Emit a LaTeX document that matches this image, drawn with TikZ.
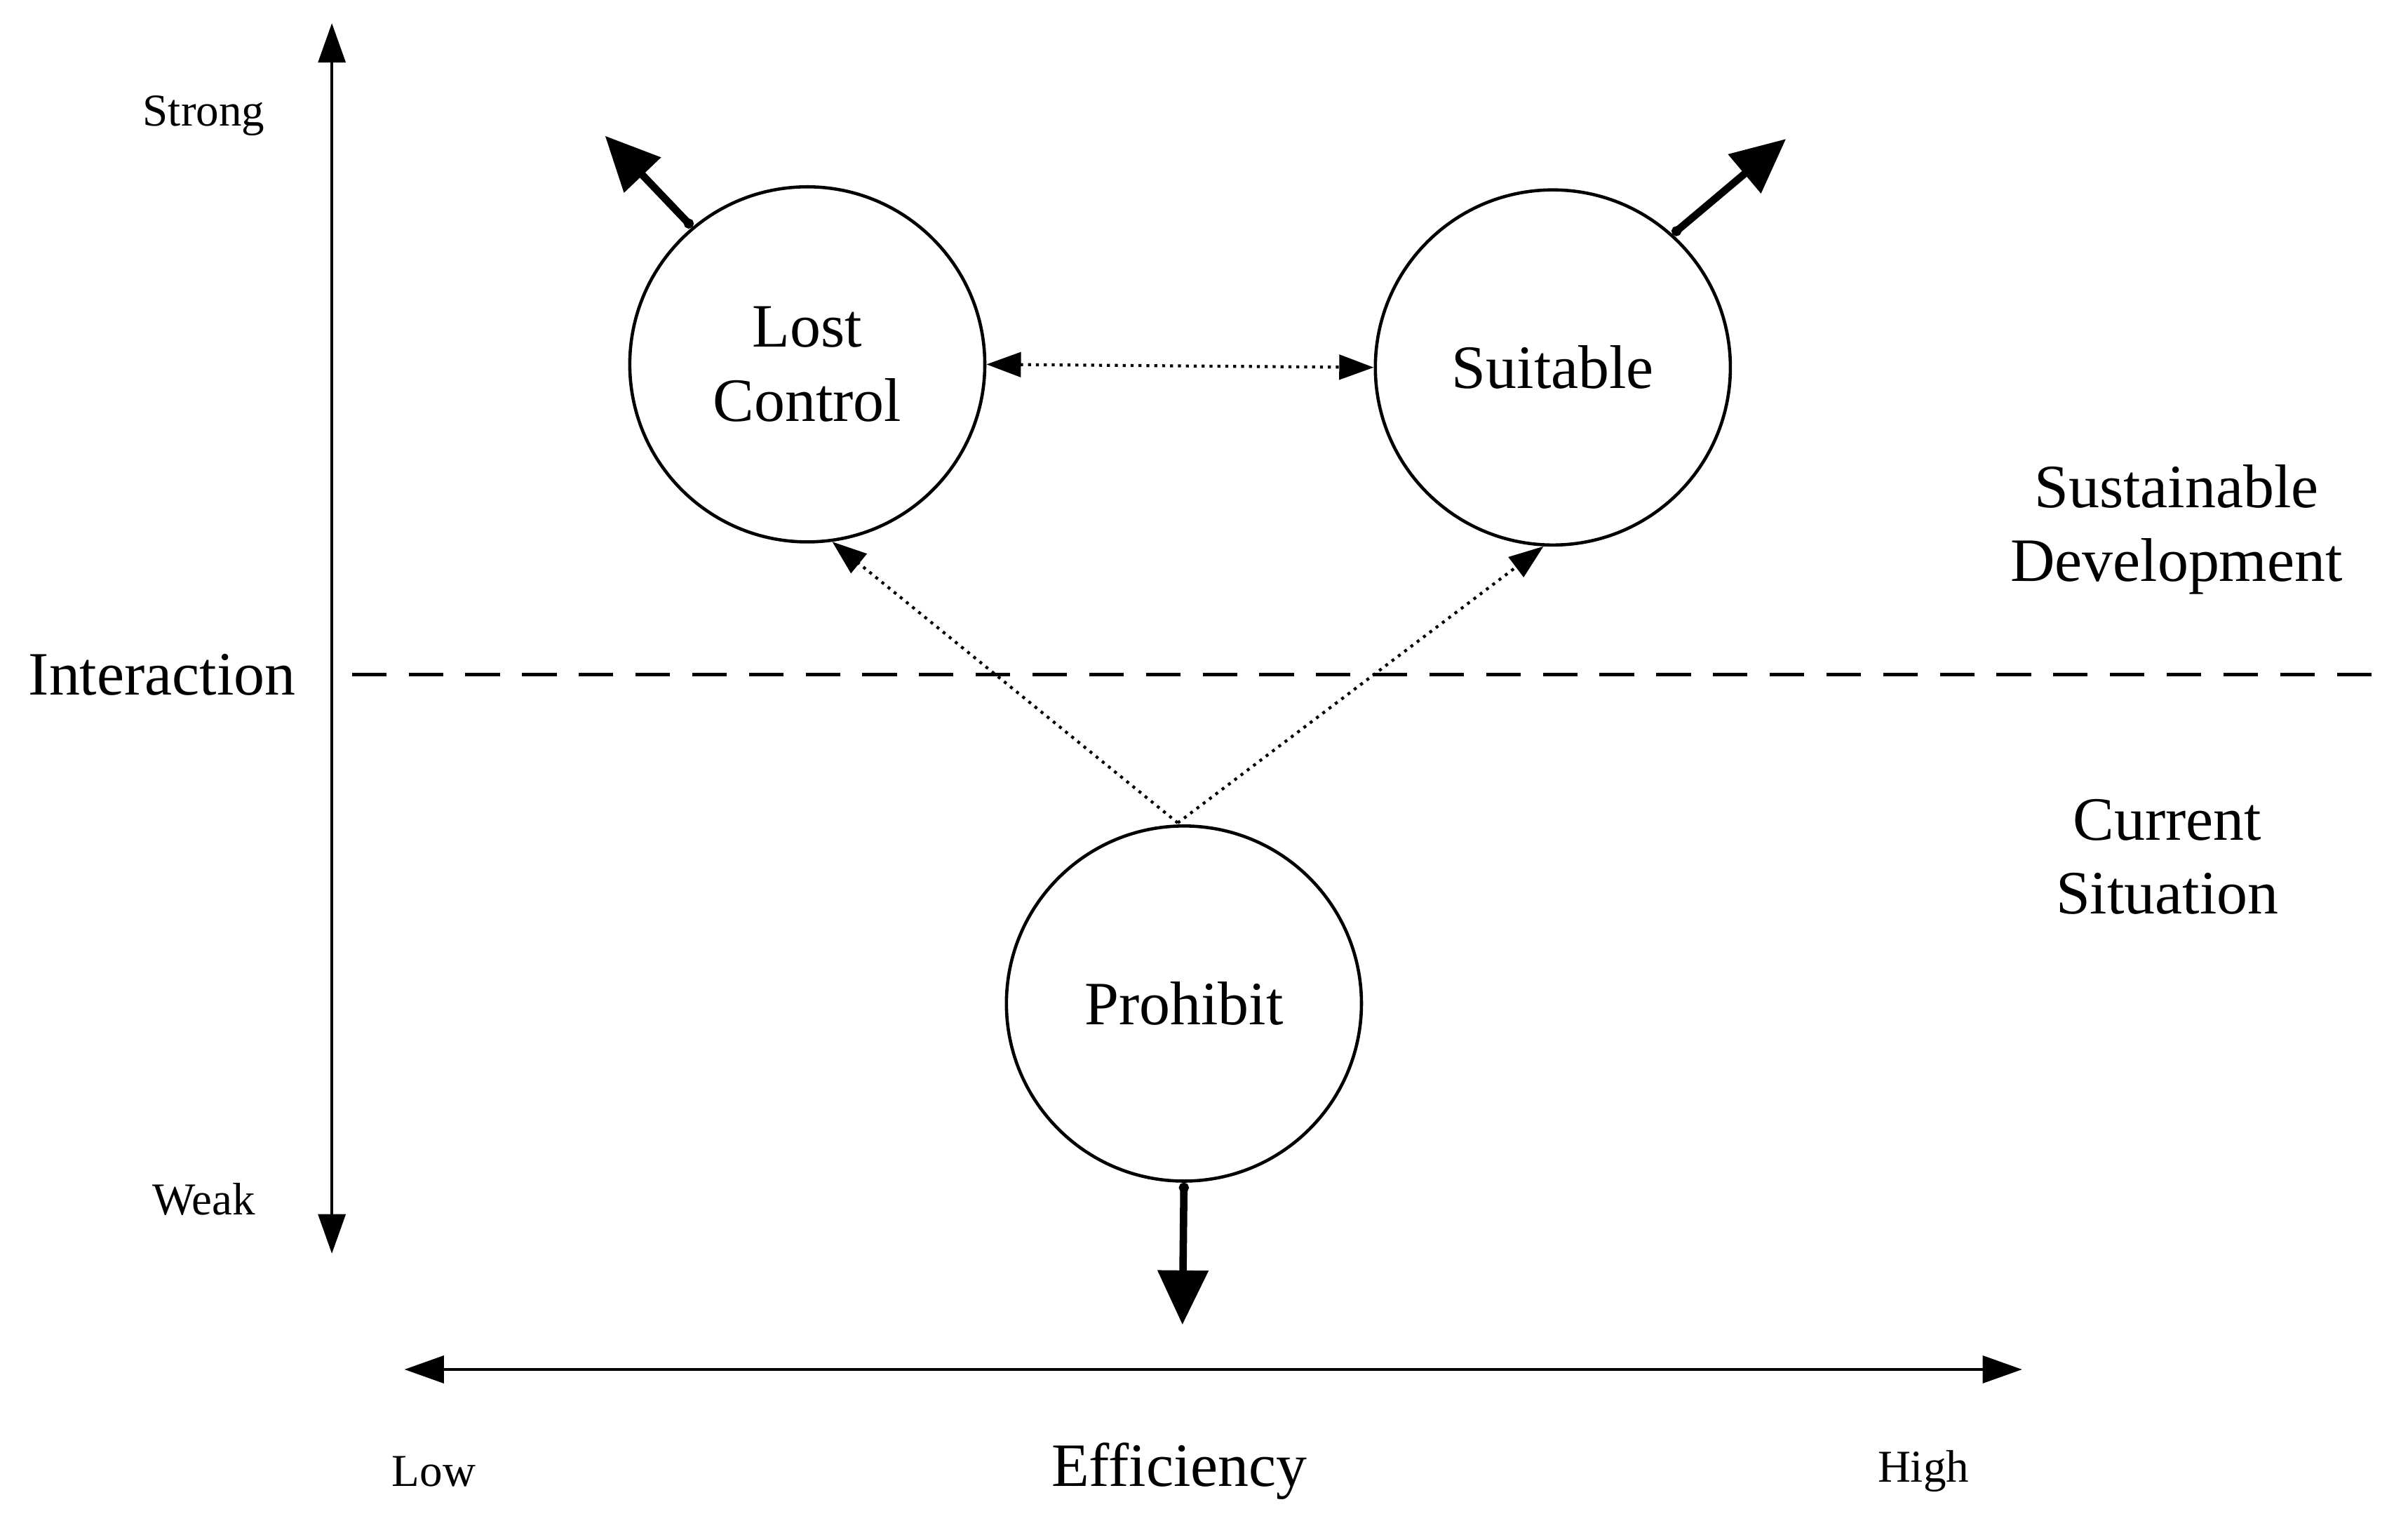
\documentclass[tikz,border=0pt]{standalone}
\usepackage{fontspec}
\setmainfont{Liberation Serif}
\usetikzlibrary{arrows.meta}
\begin{document}
\begin{tikzpicture}[x=0.022cm,y=-0.022cm,
  circ/.style={circle,draw,line width=1.3pt,minimum size=230*0.022cm,inner sep=0pt,font=\fontsize{25}{30}\selectfont,align=center},
  big/.style={font=\fontsize{25}{30}\selectfont,align=center},
  small/.style={font=\fontsize{18.5}{22}\selectfont},
  axis/.style={line width=1.3pt,{Triangle[length=16pt,width=11pt]}-{Triangle[length=16pt,width=11pt]}},
  dot/.style={line width=1.2pt,dotted,-{Triangle[length=14pt,width=10pt]}},
  thick arrow/.style={line width=3pt,{Circle[length=4pt]}-{Triangle[length=22pt,width=20pt]}}]
\useasboundingbox (0,0) rectangle (1560,985);
\coordinate (vt) at (215,15); \coordinate (vb) at (215,812);
\draw[axis] (vb) -- (vt);
\coordinate (hl) at (262,887); \coordinate (hr) at (1310,887);
\draw[axis] (hl) -- (hr);
\node[small] (strong) at (132,75) {Strong};
\node[small] (weak) at (132,777) {Weak};
\node[small] (low) at (281,953) {Low};
\node[small] (high) at (1246,953) {High};
\node[big] (eff) at (764,953) {Efficiency};
\node[big] (inter) at (105,437) {Interaction};
\coordinate (dl) at (228,437); \coordinate (dr) at (1548,437);
\draw[line width=1.3pt,dash pattern=on 14pt off 9pt] (dl) -- (dr);
\node[big] (sd) at (1410,343) {Sustainable\\Development};
\node[big] (cs) at (1404,555) {Current\\Situation};
\node[circ] (lc) at (523,236) {Lost\\Control};
\node[circ] (su) at (1006,238) {Suitable};
\node[circ] (pr) at (767,650) {Prohibit};
\draw[line width=1.2pt,dotted,{Triangle[length=14pt,width=10pt]}-{Triangle[length=14pt,width=10pt]}] (lc.east) -- (su.west);
\coordinate (src) at (763,533);
\draw[dot] (src) -- (lc.-82);
\draw[dot] (src) -- (su.-93);
\coordinate (a1) at (392,88); \coordinate (a2) at (1157,90); \coordinate (a3) at (766,858);
\draw[thick arrow] (lc.130) -- (a1);
\draw[thick arrow] (su.48) -- (a2);
\draw[thick arrow] (pr.south) -- (a3);
\end{tikzpicture}
\end{document}
